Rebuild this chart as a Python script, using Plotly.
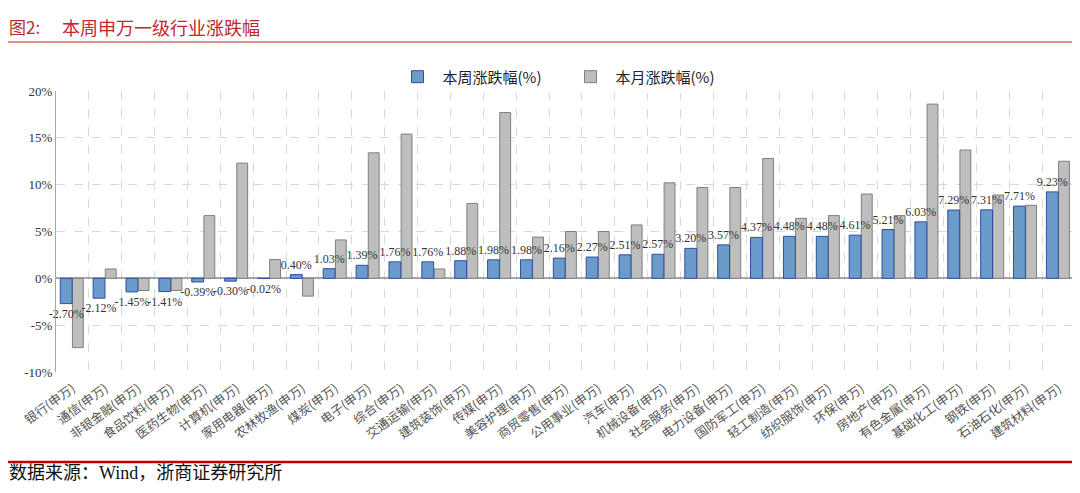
import plotly.graph_objects as go

# 申万一级行业 本周 / 本月 涨跌幅 (%)
industries = ["银行", "通信", "非银金融", "食品饮料", "医药生物", "计算机", "家用电器",
              "农林牧渔", "煤炭", "电子", "综合", "交通运输", "建筑装饰", "传媒",
              "美容护理", "商贸零售", "公用事业", "汽车", "机械设备", "社会服务",
              "电力设备", "国防军工", "轻工制造", "纺织服饰", "环保", "房地产",
              "有色金属", "基础化工", "钢铁", "石油石化", "建筑材料"]
week_chg = [-2.70, -2.12, -1.45, -1.41, -0.39, -0.30, -0.02, 0.40, 1.03, 1.39, 1.76,
            1.76, 1.88, 1.98, 1.98, 2.16, 2.27, 2.51, 2.57, 3.20, 3.57, 4.37, 4.48,
            4.48, 4.61, 5.21, 6.03, 7.29, 7.31, 7.71, 9.23]
month_chg = [-7.4, 1.0, -1.3, -1.3, 6.7, 12.3, 2.0, -1.9, 4.1, 13.4, 15.4, 1.0, 8.0,
             17.7, 4.4, 5.0, 5.0, 5.7, 10.2, 9.7, 9.7, 12.8, 6.4, 6.7, 9.0, 6.7, 18.6,
             13.7, 8.9, 7.8, 12.5]
y_ticks = [-10, -5, 0, 5, 10, 15, 20]

labels = [f"{n}(申万)" for n in industries]
xpos = list(range(len(industries)))

fig = go.Figure()
# grey first so the blue bars and their labels sit on top
fig.add_trace(go.Bar(x=xpos, y=month_chg, name="本月涨跌幅(%)", offset=0.0, width=0.33,
                     marker=dict(color="#BEBEBE", line=dict(color="#7F7F7F", width=1))))
fig.add_trace(go.Bar(x=xpos, y=week_chg, name="本周涨跌幅(%)", offset=-0.37, width=0.36,
                     marker=dict(color="#6A9BCB", line=dict(color="#2F4E9E", width=1)),
                     text=[f"{v:.2f}%" for v in week_chg], textposition="outside",
                     constraintext="none", cliponaxis=False,
                     textfont=dict(family="Liberation Serif", size=12, color="#333333")))

grid = "#D9D9D9"
# page body has an 8px margin, so margins are shifted to land on the reference pixels
fig.update_layout(
    width=1080, height=493,
    margin=dict(l=48, r=13, t=83, b=129),
    paper_bgcolor="white", plot_bgcolor="white",
    barmode="overlay",
    font=dict(family="Liberation Serif, Noto Sans CJK SC", color="#333333"),
    legend=dict(orientation="h", x=0.50, xanchor="center", y=1.05, yanchor="middle",
                font=dict(family="Noto Sans CJK SC", size=15, color="#222222"),
                itemwidth=40, entrywidth=118, traceorder="reversed"),
    showlegend=True,
)
fig.update_xaxes(
    range=[-0.5, len(industries) - 0.5],
    tickmode="array", tickvals=xpos, ticktext=labels, tickangle=-36,
    tickfont=dict(family="Noto Sans CJK SC", size=12.5, color="#555555"),
    ticklabelstandoff=6,
    showgrid=False, showline=False, ticks="",
    minor=dict(tick0=0.5, dtick=1, showgrid=True, gridcolor=grid, griddash="dash", gridwidth=1),
)
fig.update_yaxes(
    range=[-10, 20], tickmode="array", tickvals=y_ticks,
    ticktext=[f"{v}%" for v in y_ticks],
    tickfont=dict(family="Liberation Serif", size=13, color="#333333"),
    showgrid=True, gridcolor=grid, griddash="dash",
    showline=True, linecolor="#A6A6A6", linewidth=1,
    zeroline=True, zerolinecolor="#A6A6A6", zerolinewidth=1.5,
)

# header and footer
fig.add_annotation(text="图2:", xref="paper", yref="paper", x=-0.048, y=1.228,
                   xanchor="left", yanchor="middle", showarrow=False,
                   font=dict(family="Noto Sans CJK SC", size=17, color="#C0272D"))
fig.add_annotation(text="本周申万一级行业涨跌幅", xref="paper", yref="paper", x=0.004, y=1.228,
                   xanchor="left", yanchor="middle", showarrow=False,
                   font=dict(family="Noto Sans CJK SC", size=18, color="#C0272D"))
fig.add_shape(type="line", xref="paper", yref="paper", x0=-0.05, x1=1.02, y0=1.174, y1=1.174,
              line=dict(color="#D9686B", width=1.5))
fig.add_shape(type="line", xref="paper", yref="paper", x0=-0.05, x1=1.02, y0=-0.320, y1=-0.320,
              line=dict(color="#C00000", width=2.5))
fig.add_annotation(text="数据来源：Wind，浙商证券研究所", xref="paper", yref="paper",
                   x=-0.048, y=-0.36, xanchor="left", yanchor="middle", showarrow=False,
                   font=dict(family="Liberation Serif, Noto Sans CJK SC", size=18, color="#111111"))

fig.write_html("out.html")
